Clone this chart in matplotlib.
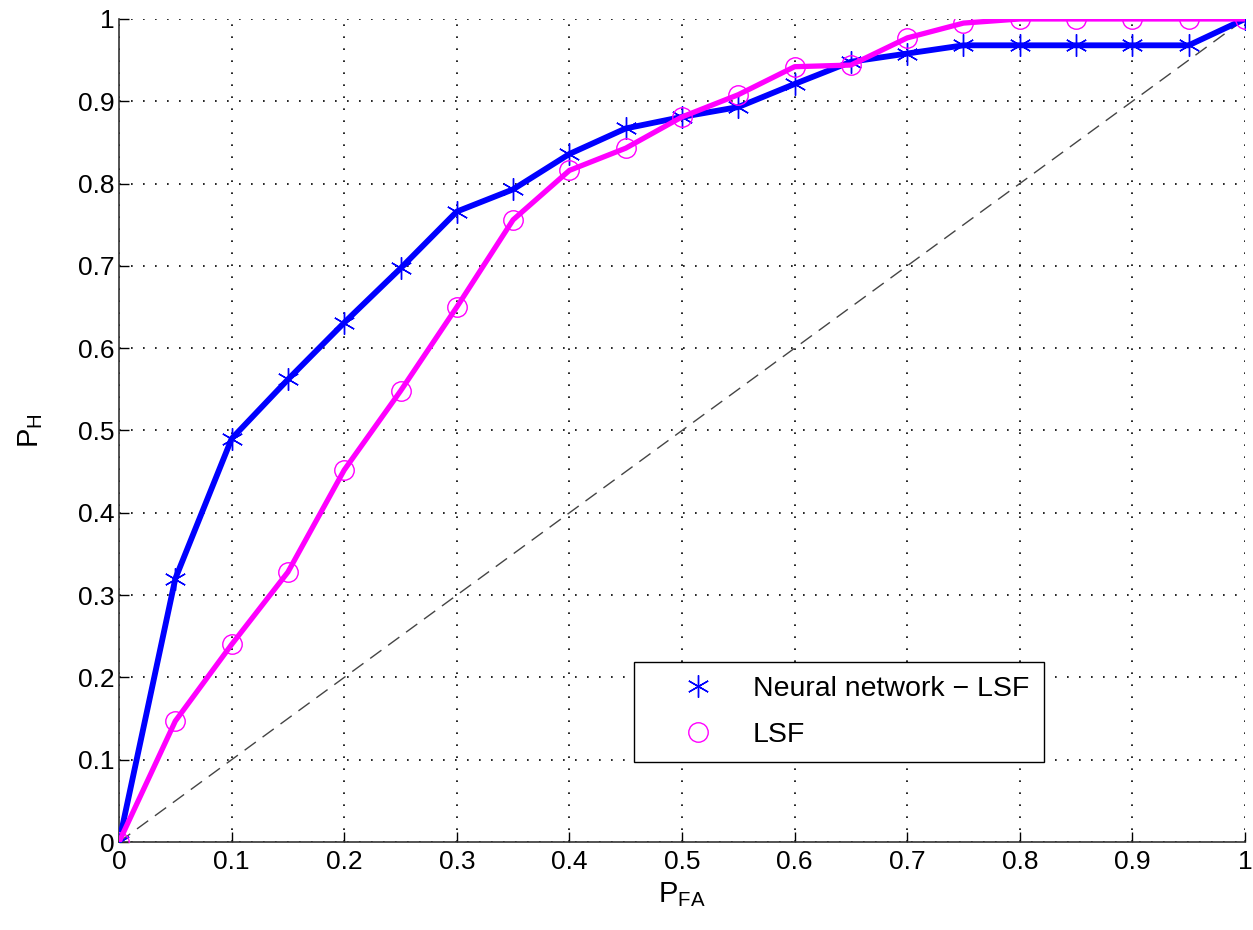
import matplotlib
matplotlib.use("Agg")
import matplotlib.pyplot as plt
from matplotlib.lines import Line2D

pfa = [0.0, 0.05, 0.1, 0.15, 0.2, 0.25, 0.3, 0.35, 0.4, 0.45, 0.5,
       0.55, 0.6, 0.65, 0.7, 0.75, 0.8, 0.85, 0.9, 0.95, 1.0]
ph_nn = [0.0, 0.32, 0.49, 0.562, 0.631, 0.697, 0.766, 0.793, 0.836, 0.867, 0.881,
         0.893, 0.921, 0.948, 0.958, 0.968, 0.968, 0.968, 0.968, 0.968, 1.0]
ph_lsf = [0.0, 0.147, 0.24, 0.328, 0.452, 0.548, 0.65, 0.756, 0.816, 0.843, 0.881,
          0.908, 0.942, 0.944, 0.977, 0.995, 1.0, 1.0, 1.0, 1.0, 1.0]
ticks = [0, 0.1, 0.2, 0.3, 0.4, 0.5, 0.6, 0.7, 0.8, 0.9, 1]
tick_labels = ["0", "0.1", "0.2", "0.3", "0.4", "0.5", "0.6", "0.7", "0.8", "0.9", "1"]
series_labels = ["Neural network \u2212 LSF", "LSF"]

fam = "Liberation Sans"
plt.rcParams['font.family'] = [fam, 'DejaVu Sans']
plt.rcParams['mathtext.fontset'] = 'custom'
plt.rcParams['mathtext.rm'] = fam
plt.rcParams['mathtext.it'] = fam

fig = plt.figure(figsize=(12.53, 9.3), dpi=100)
ax = fig.add_axes([0.095, 0.0946, 0.8986, 0.885])

ax.plot([0, 1], [0, 1], linestyle=(0, (10, 6)), color='#444444', linewidth=1.0, zorder=2)
ax.plot(pfa, ph_nn, color='#0000ff', linewidth=4.2, zorder=3)
ax.plot(pfa, ph_nn, linestyle='none', marker=(6, 2, 0), markersize=16,
        markeredgecolor='#0000ff', markeredgewidth=1.0, zorder=4)
ax.plot(pfa, ph_lsf, color='#ff00ff', linewidth=3.8, zorder=5)
ax.plot(pfa, ph_lsf, linestyle='none', marker='o', markersize=14,
        markerfacecolor='none', markeredgecolor='#ff00ff', markeredgewidth=1.0, zorder=6)

ax.set_xlim(0, 1)
ax.set_ylim(0, 1)
ax.set_xticks(ticks)
ax.set_yticks(ticks)
ax.set_xticklabels(tick_labels)
ax.set_yticklabels(tick_labels)
ax.tick_params(direction='in', length=7, width=1, labelsize=19, pad=6, colors='black')
ax.tick_params(axis='y', pad=3)
ax.grid(True, linestyle=(0, (1, 6.2)), color='black', linewidth=1.2)
ax.set_axisbelow(True)
for s in ['top', 'right']:
    ax.spines[s].set_visible(False)
for s in ['left', 'bottom']:
    ax.spines[s].set_linewidth(1.2)
    ax.spines[s].set_color('#333333')

ax.set_xlabel(r"P$_{\mathrm{FA}}$", fontsize=21, labelpad=4)
ax.set_ylabel(r"P$_{\mathrm{H}}$", fontsize=21, labelpad=24)

h1 = Line2D([], [], linestyle='none', marker=(6, 2, 0), markersize=16,
            markeredgecolor='#0000ff', markeredgewidth=1.0)
h2 = Line2D([], [], linestyle='none', marker='o', markersize=14,
            markerfacecolor='none', markeredgecolor='#ff00ff', markeredgewidth=1.0)
leg = ax.legend([h1, h2], series_labels, loc='upper left',
                bbox_to_anchor=(0.4574, 0.2187),
                fontsize=20.5, frameon=True, fancybox=False, edgecolor='black',
                borderaxespad=0, handletextpad=0.18, borderpad=0.5, labelspacing=0.7,
                handlelength=3.5)
leg.get_frame().set_linewidth(1.0)
leg.get_frame().set_alpha(1)

fig.savefig("out.png", dpi=100, facecolor='white')
